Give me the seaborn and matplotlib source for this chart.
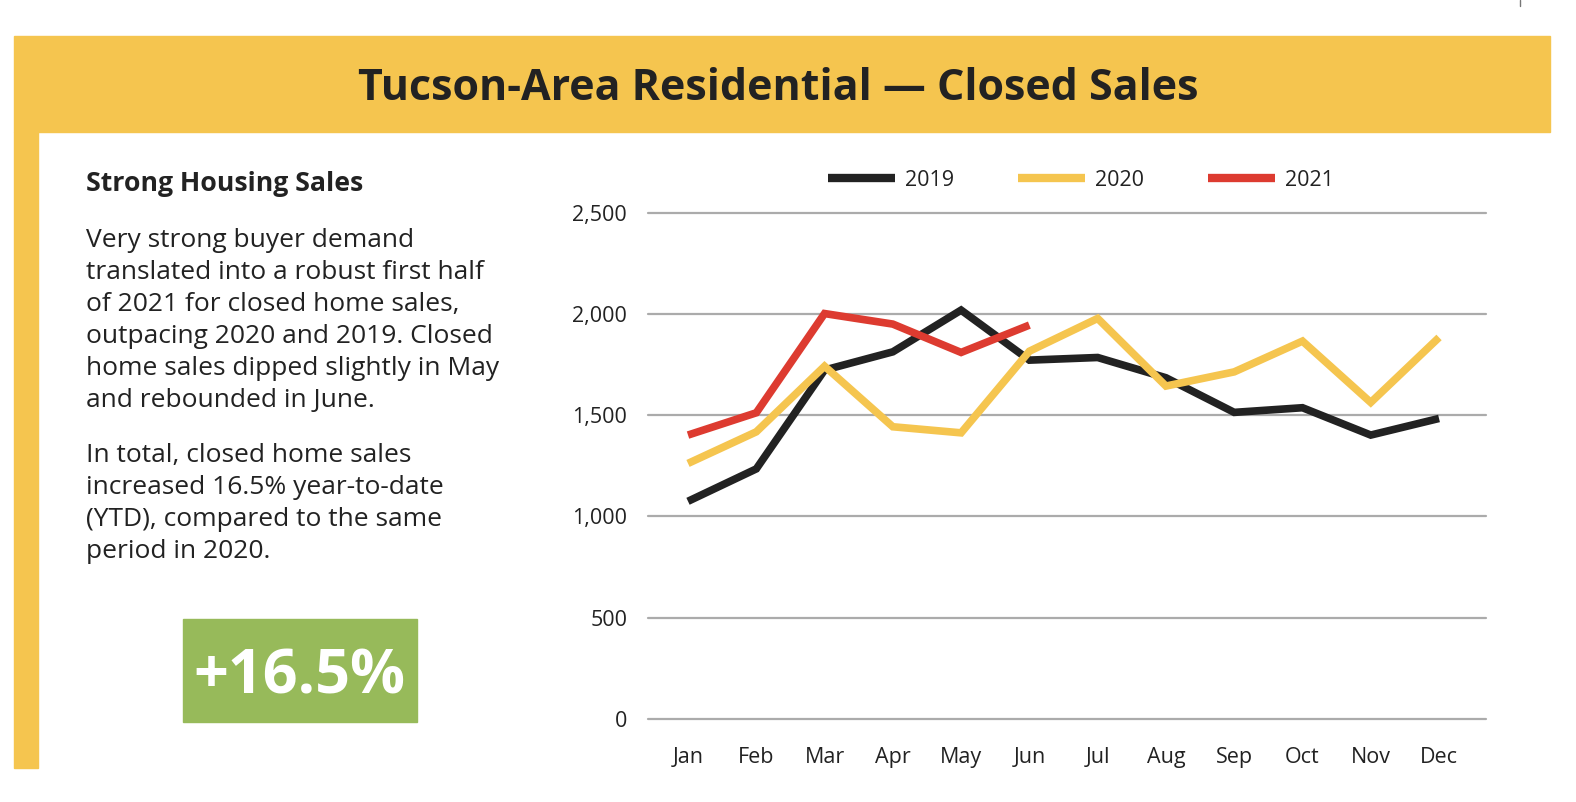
import matplotlib.pyplot as plt
import seaborn as sns
import pandas as pd
from matplotlib.patches import Rectangle
from matplotlib.lines import Line2D

# monthly closed sales
months = ["Jan", "Feb", "Mar", "Apr", "May", "Jun",
          "Jul", "Aug", "Sep", "Oct", "Nov", "Dec"]
sales_2019 = [1075, 1235, 1723, 1813, 2019, 1772, 1785, 1685, 1514, 1537, 1402, 1484]
sales_2020 = [1262, 1418, 1742, 1443, 1413, 1816, 1978, 1644, 1714, 1866, 1563, 1884]
sales_2021 = [1402, 1512, 2002, 1950, 1810, 1945]
years = ["2019", "2020", "2021"]
y_ticks = [0, 500, 1000, 1500, 2000, 2500]

title = "Tucson-Area Residential \u2014 Closed Sales"
side_head = "Strong Housing Sales"
para1 = ["Very strong buyer demand",
         "translated into a robust first half",
         "of 2021 for closed home sales,",
         "outpacing 2020 and 2019. Closed",
         "home sales dipped slightly in May",
         "and rebounded in June."]
para2 = ["In total, closed home sales",
         "increased 16.5% year-to-date",
         "(YTD), compared to the same",
         "period in 2020."]
big_number = "+16.5%"

# long format for seaborn
rows = []
for year, vals in zip(years, [sales_2019, sales_2020, sales_2021]):
    for i, v in enumerate(vals):
        rows.append({"month": i, "sales": v, "year": year})
df = pd.DataFrame(rows)

yellow = "#F5C54F"
dark = "#222222"
colors = {"2019": "#222222", "2020": yellow, "2021": "#DD3B30"}

sns.set_style("white")
plt.rcParams["font.family"] = ["Open Sans", "DejaVu Sans"]

W, H = 1576, 802
fig = plt.figure(figsize=(W / 100, H / 100), dpi=100)


def fx(px):
    return px / W


def fy(py):
    return 1 - py / H


# yellow header band and left strip
fig.patches.append(Rectangle((fx(14), fy(131.5)), fx(1550 - 14), (131.5 - 36) / H,
                             transform=fig.transFigure, color=yellow, zorder=0))
fig.patches.append(Rectangle((fx(14), fy(768)), fx(38 - 14), (768 - 131.5) / H,
                             transform=fig.transFigure, color=yellow, zorder=0))
fig.lines.append(Line2D([fx(1520), fx(1520)], [fy(0), fy(6)], transform=fig.transFigure,
                        color="#777777", linewidth=1))

fig.text(fx(778), fy(100), title, ha="center", va="baseline", fontsize=31,
         fontweight="bold", color=dark)

# left text column
fig.text(fx(86), fy(191), side_head, ha="left", va="baseline", fontsize=19.2,
         fontweight="bold", color=dark)
for k, line in enumerate(para1):
    fig.text(fx(86), fy(247 + 32 * k), line, ha="left", va="baseline",
             fontsize=19, color=dark)
for k, line in enumerate(para2):
    fig.text(fx(86), fy(462 + 32 * k), line, ha="left", va="baseline",
             fontsize=19, color=dark)

fig.patches.append(Rectangle((fx(183), fy(722)), fx(417 - 183), (722 - 619) / H,
                             transform=fig.transFigure, color="#97BA5A", zorder=0))
fig.text(fx(299), fy(694), big_number, ha="center", va="baseline", fontsize=44,
         fontweight="bold", color="white")

# the chart
ax = fig.add_axes([fx(648), fy(719), fx(1486 - 648), (719 - 212.7) / H])
sns.lineplot(data=df, x="month", y="sales", hue="year", palette=colors,
             linewidth=5.5, sort=False, ax=ax)
for ln in ax.get_lines():
    ln.set_solid_capstyle("butt")
    ln.set_solid_joinstyle("miter")

ax.set_xlim(-0.586, 11.688)
ax.set_ylim(0, 2500)
ax.set_xticks(range(len(months)), months)
ax.set_yticks(y_ticks, [f"{t:,}" for t in y_ticks])
ax.tick_params(axis="y", length=0, pad=15, labelsize=15.5, labelcolor=dark)
ax.tick_params(axis="x", length=0, pad=20, labelsize=15.5, labelcolor=dark)
ax.set_xlabel("")
ax.set_ylabel("")
ax.yaxis.grid(True, color="#ABABAB", linewidth=1.6)
ax.xaxis.grid(False)
ax.set_axisbelow(True)
for s in ax.spines.values():
    s.set_visible(False)
for gl in ax.get_ygridlines():
    gl.set_clip_on(False)

handles, labels = ax.get_legend_handles_labels()
ax.get_legend().remove()
leg = fig.legend(handles, labels, loc="center", bbox_to_anchor=(fx(1081), fy(180)),
                 ncol=3, frameon=False, fontsize=15.5, handlelength=3.1,
                 handletextpad=0.45, columnspacing=3.0)
for h in leg.get_lines():
    h.set_linewidth(6)
    h.set_solid_capstyle("butt")
for t in leg.get_texts():
    t.set_color(dark)

fig.savefig("out.png", dpi=100, facecolor="white")
